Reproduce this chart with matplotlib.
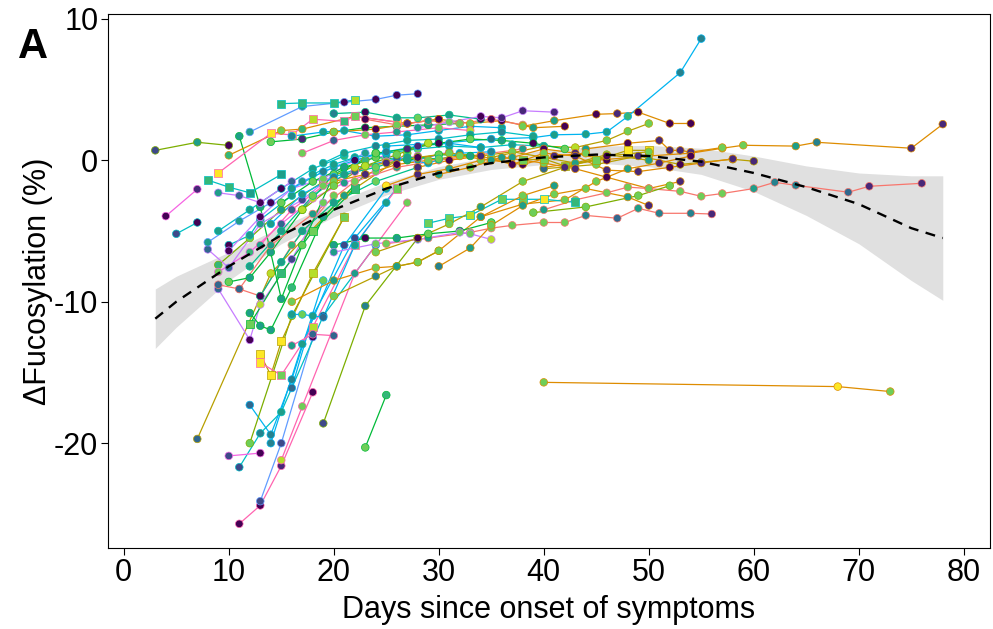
import matplotlib
matplotlib.use("Agg")
import matplotlib.pyplot as plt

plt.rcParams['font.family'] = ['Liberation Sans', 'DejaVu Sans']
plt.rcParams['axes.unicode_minus'] = False

# each patient: (days since onset, delta fucosylation %, patient hue index, sample group, tone 0-9 per sample)
early_low = [
    ([11, 13, 15, 18], [-25.7, -24.4, -21.6, -16.4], 11, 'c', '0010'),
    ([13, 15, 18], [-24.1, -20.0, -12.5], 8, 'c', '220'),
    ([11, 13, 15, 19, 24], [-21.7, -19.3, -17.8, -11.0, -6.0], 6, 'c', '24505'),
    ([12, 14, 16, 19], [-17.3, -19.4, -15.5, -8.5], 7, 'c', '3447'),
    ([12, 16, 21], [-20.0, -11.0, -4.0], 3, 'c', '775'),
    ([10, 13], [-20.9, -20.7], 10, 'c', '20'),
    ([15, 17, 22, 27], [-21.2, -17.4, -8.0, -3.0], 11, 'c', '8757'),
    ([16, 18, 22, 26], [-16.1, -11.0, -5.5, -2.0], 7, 'c', '3526'),
    ([7, 14, 21, 27], [-19.7, -8.0, -2.5, 0.5], 2, 'c', '3857'),
    ([19, 23, 28], [-18.6, -10.3, -5.5], 3, 'c', '245'),
    ([23, 25], [-20.3, -16.6], 4, 'c', '76'),
    ([14, 17, 21, 25], [-20.0, -13.0, -6.0, -2.0], 7, 'c', '4525'),
]

early_mid = [
    ([9, 12, 15, 19, 23], [-7.4, -5.5, -3.5, -1.5, 0.0], 3, 'c', '67576'),
    ([10, 12, 14, 17, 20, 24], [-8.6, -8.3, -6.5, -3.5, -1.0, 0.5], 4, 'c', '755756'),
    ([11, 13, 16, 20], [-9.1, -9.6, -6.0, -2.5], 0, 'c', '3067'),
    ([9, 12, 13, 16, 19], [-9.1, -12.7, -10.2, -7.0, -3.0], 9, 'c', '30827'),
    ([12, 13, 14, 16, 19, 23], [-10.8, -11.7, -12.0, -9.0, -4.0, -1.0], 4, 'c', '555657'),
    ([12, 15, 18, 22], [-11.6, -8.0, -5.0, -2.0], 4, 's', '7676'),
    ([13, 14, 15, 18, 21], [-13.7, -15.2, -12.8, -8.0, -4.0], 2, 's', '99987'),
    ([13, 15, 18, 22, 26], [-14.3, -15.2, -11.8, -6.0, -2.0], 11, 's', '97877'),
    ([16, 18, 20], [-13.1, -12.3, -12.4], 11, 'c', '533'),
    ([16, 17, 19, 22, 25], [-10.9, -10.9, -11.1, -6.0, -3.0], 7, 'c', '57355'),
    ([13, 15, 17, 20, 24, 28], [-9.6, -7.2, -5.0, -3.0, -1.5, -0.5], 5, 'c', '055576'),
    ([10, 12, 13, 16], [-6.0, -5.3, -4.2, -2.5], 6, 'c', '0555'),
    ([5, 7], [-5.2, -4.4], 6, 'c', '20'),
    ([4, 7], [-3.95, -2.05], 10, 'c', '01'),
    ([9, 12, 15, 18, 21, 24], [-7.9, -6.5, -4.5, -2.7, -1.6, -0.8], 10, 'c', '763857'),
    ([8, 10, 13, 17, 20], [-6.3, -7.6, -4.5, -2.8, -1.0], 9, 'c', '33525'),
    ([8, 11, 14, 17, 20, 23], [-5.8, -4.3, -3.0, -1.5, -0.5, 0.5], 8, 'c', '550555'),
    ([10, 13, 16, 19, 22, 25, 28, 31], [-6.4, -4.0, -2.0, -1.3, 0.0, 0.3, 0.0, 0.6], 9, 'c', '00372557'),
    ([9, 12, 15, 18, 21], [-5.0, -3.5, -2.0, -0.6, 0.3], 6, 'c', '55056'),
    ([9, 11, 14, 18, 22, 26, 30, 34, 38], [-8.8, -9.1, -6.0, -3.8, -1.5, -0.5, 0.0, 0.4, 0.8], 0, 'c', '335575675'),
    ([11, 13, 15, 17, 20], [1.7, -3.3, -9.8, -6.0, -1.0], 4, 'c', '55577'),
]

upper = [
    ([12, 17, 21, 24, 26, 28], [2.0, 3.8, 4.1, 4.3, 4.6, 4.7], 8, 'c', '550000'),
    ([15, 17, 20, 22], [4.0, 4.05, 4.05, 4.25], 6, 's', '6668'),
    ([10, 15, 17, 22, 27, 30], [0.35, 2.1, 2.2, 3.1, 2.6, 2.9], 1, 'c', '676800'),
    ([9, 14, 16, 18, 21, 22, 26], [-0.9, 1.9, 1.8, 2.9, 2.75, 3.1, 2.7], 11, 's', '9998679'),
    ([3, 7, 10], [0.7, 1.27, 1.05], 3, 'c', '250'),
    ([8, 10, 12, 15], [-1.4, -1.9, -2.3, -1.0], 6, 's', '6655'),
    ([9, 11, 13, 16], [-2.3, -2.5, -3.0, -1.5], 9, 'c', '5303'),
    ([14, 17, 20, 23, 26, 29, 32], [1.3, 1.5, 2.0, 2.3, 2.4, 2.5, 2.6], 4, 'c', '7170757'),
    ([20, 23, 26, 28, 31, 34], [3.3, 3.4, 3.0, 3.0, 3.2, 2.9], 5, 'c', '405750'),
    ([16, 19, 21, 24, 27, 30, 33, 36], [1.7, 2.0, 2.1, 1.7, 1.8, 2.1, 2.4, 2.3], 7, 'c', '45545545'),
    ([20, 24, 27, 30, 33, 36, 39, 42], [2.0, 2.2, 2.6, 2.9, 2.6, 2.8, 2.3, 2.4], 1, 'c', '70107050'),
    ([23, 26, 29, 32, 35, 38], [2.9, 2.5, 2.8, 2.6, 2.9, 2.5], 0, 'c', '075707'),
    ([17, 20, 23, 26, 30, 33], [0.5, 1.4, 1.8, 2.0, 2.3, 2.1], 11, 'c', '737578'),
    ([28, 31, 34, 36, 38, 41], [2.3, 2.7, 3.1, 3.0, 3.5, 3.4], 9, 'c', '570111'),
    ([38, 41, 45, 47, 49, 52, 54], [2.4, 2.8, 3.25, 3.3, 3.4, 2.6, 2.6], 1, 'c', '7501000'),
    ([25, 30, 35, 39, 41, 44, 46, 48, 53, 55], [1.0, 1.2, 1.5, 1.6, 1.8, 1.84, 2.0, 3.1, 6.2, 8.6], 7, 'c', '5544555644'),
    ([35, 40, 43, 46, 48, 50], [0.2, 1.0, 0.9, 1.4, 2.05, 2.6], 2, 'c', '798777'),
    ([40, 45, 50, 54, 57, 59, 64, 66, 75, 78], [-0.5, 0.0, 0.3, 0.5, 0.85, 1.06, 1.0, 1.27, 0.85, 2.55], 1, 'c', '5777775411'),
    ([44, 48, 51, 52, 53, 54, 57], [0.8, 1.2, 1.4, 0.7, 0.7, 0.57, 0.9], 1, 'c', '5011117'),
    ([40, 45, 49, 53, 55, 58, 60], [-0.6, -0.3, 0.3, -0.3, -0.14, 0.07, -0.07], 2, 'c', '3710111'),
]

middle = [
    ([18, 20, 22, 25, 28, 31, 34, 37, 40], [-1.0, -0.3, 0.2, 0.5, 0.8, 1.0, 0.9, 1.1, 1.0], 6, 'c', '555575455'),
    ([15, 18, 21, 24, 27, 30, 33], [-3.0, -1.5, -0.5, 0.2, 0.0, 0.4, 0.3], 4, 'c', '7757575'),
    ([14, 17, 20, 23, 26, 29, 32, 35], [-4.5, -2.4, -1.2, -0.4, 0.1, -0.2, 0.5, 0.6], 7, 'c', '55453554'),
    ([13, 16, 19, 22, 25, 28], [-6.0, -3.5, -1.8, -0.8, -0.1, 0.3], 11, 'c', '537375'),
    ([12, 15, 18, 21, 24, 27, 30], [-7.5, -5.0, -2.5, -1.0, -0.5, 0.2, 0.1], 5, 'c', '5575757'),
    ([20, 23, 26, 29, 32, 35, 38, 41, 44], [-1.5, -1.0, -0.3, 0.0, 0.3, 0.0, -0.3, 0.3, 0.5], 1, 'c', '710775017'),
    ([22, 25, 28, 31, 34, 37, 40, 43, 46, 50], [-0.5, -0.2, 0.2, 0.5, 0.3, 0.6, 0.2, -0.2, 0.4, 0.0], 2, 'c', '8107570575'),
    ([25, 28, 31, 34, 37, 40, 43, 46], [-1.8, -1.0, -0.6, 0.0, 0.2, 0.8, 0.5, 0.0], 1, 'c', '91575010'),
    ([28, 31, 34, 37, 40, 43, 46, 49, 52, 55, 58], [-0.5, 0.0, 0.3, -0.3, 0.5, 0.3, -0.7, -0.8, -0.5, -0.2, 0.1], 1, 'c', '10107111011'),
    ([30, 33, 36, 40, 43, 46, 50, 53], [-1.0, -0.5, 0.2, -0.2, -0.6, -1.2, -2.0, -1.5], 1, 'c', '57571001'),
    ([34, 38, 42, 45, 48, 51, 54], [-4.0, -3.1, -2.8, -1.5, -0.6, -0.2, 0.3], 1, 'c', '4777510'),
    ([16, 19, 22, 25, 28, 31, 34], [-2.0, -0.8, 0.0, 0.6, 1.0, 1.2, 0.9], 7, 'c', '5404145'),
    ([19, 21, 24, 27, 30, 33, 36, 39], [-0.2, 0.5, 1.0, 1.4, 1.5, 1.8, 2.0, 1.7], 6, 'c', '55454545'),
    ([24, 27, 30, 33, 36, 39, 42], [0.5, 0.8, 1.2, 1.5, 1.4, 1.2, 0.8], 4, 'c', '7107507'),
    ([17, 20, 23, 26, 29], [-3.5, -1.8, -0.4, 0.4, 1.2], 3, 'c', '87878'),
    ([38, 40, 42, 45, 48, 50], [0.0, 0.1, -0.4, 0.0, 0.7, 0.7], 2, 's', '777799'),
]

lower = [
    ([25, 29, 33, 35, 37, 40, 42, 44, 47, 49, 51, 54, 56],
     [-5.9, -5.5, -5.1, -4.8, -4.6, -4.4, -4.4, -3.9, -4.1, -3.4, -3.75, -3.75, -3.8], 0, 'c', '7577777435441'),
    ([40, 43, 46, 48, 50, 53, 55, 57, 60, 62, 64, 69, 71, 76],
     [-3.5, -2.8, -2.3, -1.9, -2.0, -2.2, -2.55, -2.35, -2.0, -1.56, -1.77, -2.26, -1.84, -1.63], 0, 'c', '57777777544311'),
    ([29, 31, 33, 36, 38, 40, 43], [-4.45, -4.1, -3.9, -2.76, -2.76, -2.76, -2.97], 6, 's', '7787796'),
    ([16, 20, 24, 26, 28, 30, 34, 38, 41], [-10.0, -8.5, -7.6, -7.5, -7.2, -6.4, -4.0, -2.5, -1.8], 1, 'c', '757457575'),
    ([20, 23, 26, 29, 32, 35], [-6.0, -5.5, -5.5, -5.2, -5.0, -4.4], 4, 'c', '505717'),
    ([20, 24, 28, 32, 33, 35], [-6.5, -5.9, -5.6, -5.1, -5.2, -5.6], 9, 'c', '575778'),
    ([24, 28, 31, 34, 38, 42, 46, 50], [-6.5, -5.5, -4.5, -3.3, -1.5, -0.5, 0.3, 0.6], 2, 'c', '70757107'),
    ([39, 44, 49, 52], [-3.7, -3.3, -2.5, -1.8], 3, 'c', '7777'),
    ([30, 33, 35, 38, 41, 44, 48, 50], [-7.5, -6.2, -4.6, -3.2, -2.4, -2.0, -2.6, -3.2], 1, 'c', '45757751'),
    ([40, 68, 73], [-15.7, -16.0, -16.35], 1, 'c', '797'),
    ([20, 24, 26, 28, 30], [-9.6, -8.2, -7.5, -7.2, -6.4], 2, 'c', '74577'),
]

# population trend with its confidence band
fit_days = [3, 5, 10, 15, 20, 25, 30, 35, 40, 45, 50, 55, 60, 65, 70, 75, 78]
fit_mid = [-11.2, -10.0, -7.5, -5.3, -3.5, -2.0, -0.9, -0.2, 0.2, 0.4, 0.3, -0.1, -0.9, -1.9, -3.1, -4.8, -5.5]
fit_lo = [-13.3, -11.8, -8.5, -5.9, -4.0, -2.45, -1.35, -0.65, -0.3, -0.2, -0.45, -1.0, -2.2, -3.9, -5.9, -8.5, -9.9]
fit_hi = [-9.1, -8.2, -6.5, -4.7, -3.0, -1.55, -0.45, 0.25, 0.7, 1.0, 1.05, 0.85, 0.3, -0.4, -0.9, -1.1, -1.1]

hues = ['#F8766D', '#DE8C00', '#B79F00', '#7CAE00', '#00BA38', '#00C08B',
        '#00BFC4', '#00B4F0', '#619CFF', '#C77CFF', '#F564E3', '#FF64B0']
tone_map = plt.get_cmap('viridis')

fig, ax = plt.subplots(figsize=(9.93, 6.29), dpi=100)
fig.subplots_adjust(left=0.1088, right=0.997, bottom=0.129, top=0.978)

ax.fill_between(fit_days, fit_lo, fit_hi, color='#e0e0e0', lw=0, zorder=1)

patients = early_low + early_mid + upper + middle + lower
for days, vals, h, grp, tones in patients:
    ax.plot(days, vals, color=hues[h], lw=0.9, zorder=2)

for days, vals, h, grp, tones in patients:
    assert len(tones) == len(days) == len(vals)
    cols = [tone_map(int(t) / 9) for t in tones]
    ax.scatter(days, vals, c=cols, marker='s' if grp == 's' else 'o',
               s=34 if grp == 's' else 30, edgecolors=hues[h], linewidths=0.5, zorder=3)

ax.plot(fit_days, fit_mid, color='black', lw=1.7, dashes=(4.2, 3.2), zorder=4)

ax.set_xlim(-1.5, 82.5)
ax.set_ylim(-27.4, 10.35)
ax.set_xticks(range(0, 81, 10))
ax.set_yticks([-20, -10, 0, 10])
ax.tick_params(direction='out', length=5, width=0.8, labelsize=22, pad=2, colors='black')
for sp in ax.spines.values():
    sp.set_linewidth(0.8)

ax.set_xlabel('Days since onset of symptoms', fontsize=22)
ax.set_ylabel('\u0394Fucosylation (%)', fontsize=22)
ax.yaxis.set_label_coords(-0.062, 0.5)
ax.xaxis.set_label_coords(0.5, -0.088)

fig.text(0.018, 0.908, 'A', fontsize=30, fontweight='bold', va='baseline')

fig.savefig('out.png', dpi=100)
